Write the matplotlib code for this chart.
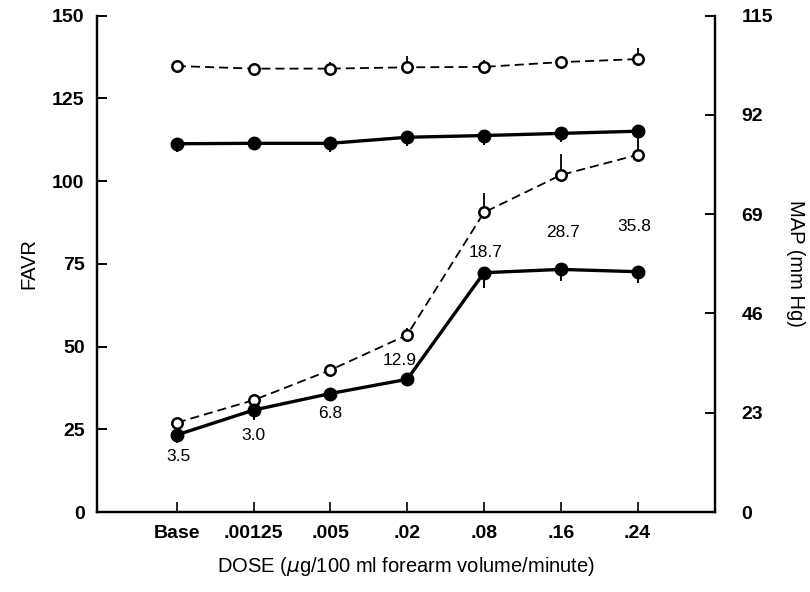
import numpy as np
import matplotlib
matplotlib.use('Agg')
import matplotlib.pyplot as plt

plt.rcParams['font.family'] = ['Liberation Sans', 'DejaVu Sans']

# Dose categories
doses = ['Base', '.00125', '.005', '.02', '.08', '.16', '.24']

# FAVR (left axis)
favr_open = [27.0, 33.8, 42.9, 53.5, 90.5, 101.8, 107.9]
favr_open_err = [0, 0, 1.5, 2.0, 6.0, 6.5, 7.2]
favr_solid = [23.3, 30.8, 35.8, 40.1, 72.3, 73.3, 72.6]
favr_solid_err = [2.5, 3.0, 2.0, 1.5, 4.5, 3.5, 3.5]

# MAP (right axis, mm Hg)
map_open = [103.3, 102.7, 102.7, 103.0, 103.1, 104.2, 104.9]
map_open_err = [0, 0.8, 1.5, 2.7, 1.5, 0.8, 2.5]
map_solid = [85.3, 85.4, 85.4, 86.8, 87.2, 87.7, 88.2]
map_solid_err = [2.0, 1.5, 2.0, 2.0, 2.3, 2.0, 1.5]

# numbers printed next to the FAVR points
point_labels = ['3.5', '3.0', '6.8', '12.9', '18.7', '28.7', '35.8']
label_x = [0.02, 1.0, 2.0, 2.9, 4.02, 5.03, 5.96]
label_y = [16.8, 23.0, 29.8, 45.9, 78.3, 84.4, 86.2]

x = np.arange(len(doses))
zeros = np.zeros(len(doses))

fig = plt.figure(figsize=(8.1, 5.92), dpi=100)
ax = fig.add_axes([0.1198, 0.1351, 0.763, 0.8387])
ax2 = ax.twinx()

dash = (0, (5, 2.8))
open_style = dict(marker='o', markersize=7.5, markerfacecolor='white',
                  markeredgecolor='black', markeredgewidth=1.8,
                  color='black', lw=1.3, linestyle=dash,
                  ecolor='black', elinewidth=1.3, capsize=0)
solid_style = dict(marker='o', markersize=9, markerfacecolor='black',
                   markeredgecolor='black', color='black', lw=2.4,
                   ecolor='black', elinewidth=1.4, capsize=0)

ax.errorbar(x, favr_open, yerr=[zeros, favr_open_err], zorder=3, **open_style)
ax.errorbar(x, favr_solid, yerr=[favr_solid_err, zeros], zorder=4, **solid_style)
ax2.errorbar(x, map_open, yerr=[zeros, map_open_err], zorder=3, **open_style)
ax2.errorbar(x, map_solid, yerr=[map_solid_err, zeros], zorder=4, **solid_style)

for xi, yi, txt in zip(label_x, label_y, point_labels):
    ax.text(xi, yi, txt, ha='center', va='center', fontsize=12.5)

ax.set_xlim(-1.04, 7.01)
ax.set_ylim(0, 150)
ax2.set_ylim(0, 115)
ax.set_yticks([0, 25, 50, 75, 100, 125, 150])
ax2.set_yticks([0, 23, 46, 69, 92, 115])
ax.set_xticks(x)
ax.set_xticklabels(doses)

for a in (ax, ax2):
    a.spines['top'].set_visible(False)
    for s in ('left', 'right', 'bottom'):
        a.spines[s].set_linewidth(1.6)

ax.tick_params(axis='y', direction='in', length=7, width=1.4, pad=9,
               labelsize=14)
ax.tick_params(axis='x', direction='in', length=7, width=1.2, pad=9,
               labelsize=14)
ax2.tick_params(axis='y', direction='in', length=7, width=1.4, pad=19,
                labelsize=14)
for lab in ax.get_xticklabels() + ax.get_yticklabels() + ax2.get_yticklabels():
    lab.set_fontweight('bold')

ax.set_ylabel('FAVR', fontsize=14.5, labelpad=10)
ax2.set_ylabel('MAP (mm Hg)', fontsize=14.5, rotation=270, labelpad=23)
ax.set_xlabel('DOSE ($\\mu$g/100 ml forearm volume/minute)', fontsize=14.5,
              labelpad=10)

fig.savefig('out.png', dpi=100)
